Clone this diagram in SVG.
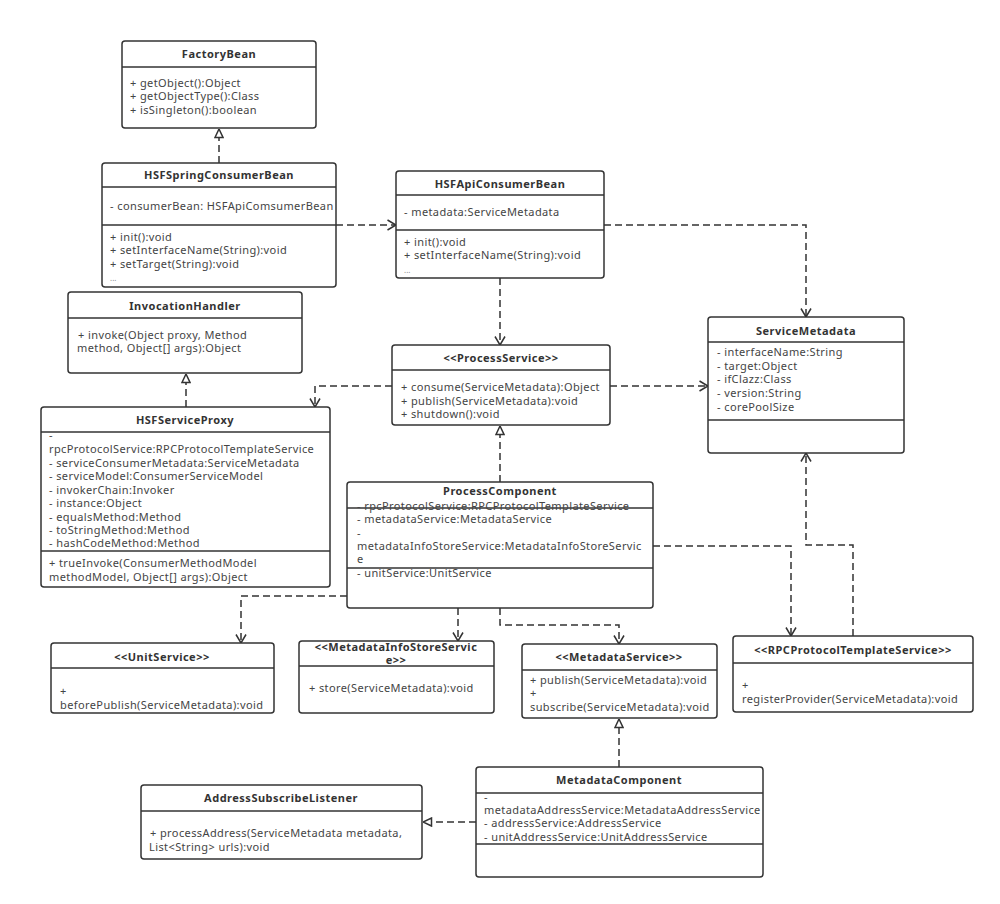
<svg xmlns="http://www.w3.org/2000/svg" width="1000" height="904" viewBox="0 0 1000 904">
<defs>
<style>
.box{fill:#fff;stroke:#333;stroke-width:1.5}
.div{stroke:#333;stroke-width:1.5}
.t{font-family:"Noto Sans","Liberation Sans",sans-serif;font-size:11px;letter-spacing:0.4px;fill:#444}
.h{font-family:"Noto Sans","Liberation Sans",sans-serif;font-size:11px;font-weight:bold;fill:#333;text-anchor:middle;letter-spacing:0.5px}
.e{font-family:"Noto Sans","Liberation Sans",sans-serif;font-size:8px;fill:#888}
.c{fill:none;stroke:#333;stroke-width:1.5;stroke-dasharray:7 4}
</style>
<marker id="arr" markerUnits="userSpaceOnUse" viewBox="0 0 10 12" refX="9.5" refY="6" markerWidth="10" markerHeight="12" orient="auto">
<path d="M1,1 L9.5,6 L1,11" fill="none" stroke="#333" stroke-width="1.5"/>
</marker>
<marker id="tri" markerUnits="userSpaceOnUse" viewBox="0 0 10 10" refX="9.5" refY="5" markerWidth="10" markerHeight="10" orient="auto">
<path d="M1,1 L9.5,5 L1,9 Z" fill="#fff" stroke="#333" stroke-width="1.5"/>
</marker>
</defs>
<rect width="1000" height="904" fill="#fff"/>

<g id="connectors">
<path class="c" d="M219,163 L219,129" marker-end="url(#tri)"/>
<path class="c" d="M336,225 L396,225" marker-end="url(#arr)"/>
<path class="c" d="M604,225 L806,225 L806,317" marker-end="url(#arr)"/>
<path class="c" d="M500,278 L500,345" marker-end="url(#arr)"/>
<path class="c" d="M186,407 L186,374" marker-end="url(#tri)"/>
<path class="c" d="M392,386 L315,386 L315,407" marker-end="url(#arr)"/>
<path class="c" d="M610,386 L708,386" marker-end="url(#arr)"/>
<path class="c" d="M500,482 L500,426" marker-end="url(#tri)"/>
<path class="c" d="M347,596 L241,596 L241,643" marker-end="url(#arr)"/>
<path class="c" d="M458,608 L458,641" marker-end="url(#arr)"/>
<path class="c" d="M500,608 L500,625 L619,625 L619,644" marker-end="url(#arr)"/>
<path class="c" d="M653,546 L791,546 L791,636" marker-end="url(#arr)"/>
<path class="c" d="M853,636 L853,545 L806,545 L806,453" marker-end="url(#arr)"/>
<path class="c" d="M619,767 L619,719" marker-end="url(#tri)"/>
<path class="c" d="M476,822 L423,822" marker-end="url(#tri)"/>
</g>

<g id="FactoryBean">
<rect class="box" x="122" y="41" width="194" height="87" rx="3"/>
<line class="div" x1="122" y1="67" x2="316" y2="67"/>
<text class="h" x="219" y="58">FactoryBean</text>
<text class="t" x="130" y="87">+ getObject():Object</text>
<text class="t" x="130" y="100">+ getObjectType():Class</text>
<text class="t" x="130" y="114">+ isSingleton():boolean</text>
</g>

<g id="HSFSpringConsumerBean">
<rect class="box" x="102" y="163" width="234" height="124" rx="3"/>
<line class="div" x1="102" y1="187" x2="336" y2="187"/>
<line class="div" x1="102" y1="225" x2="336" y2="225"/>
<text class="h" x="219" y="179">HSFSpringConsumerBean</text>
<text class="t" x="110" y="210">- consumerBean: HSFApiComsumerBean</text>
<text class="t" x="110" y="241">+ init():void</text>
<text class="t" x="110" y="254">+ setInterfaceName(String):void</text>
<text class="t" x="110" y="268">+ setTarget(String):void</text>
<text class="e" x="110" y="281">...</text>
</g>

<g id="HSFApiConsumerBean">
<rect class="box" x="396" y="171" width="208" height="107" rx="3"/>
<line class="div" x1="396" y1="195" x2="604" y2="195"/>
<line class="div" x1="396" y1="230" x2="604" y2="230"/>
<text class="h" x="500" y="188">HSFApiConsumerBean</text>
<text class="t" x="404" y="216">- metadata:ServiceMetadata</text>
<text class="t" x="404" y="246">+ init():void</text>
<text class="t" x="404" y="259">+ setInterfaceName(String):void</text>
<text class="e" x="404" y="273">...</text>
</g>

<g id="InvocationHandler">
<rect class="box" x="68" y="292" width="234" height="81" rx="3"/>
<line class="div" x1="68" y1="318" x2="302" y2="318"/>
<text class="h" x="185" y="310">InvocationHandler</text>
<text class="t" x="78" y="339">+ invoke(Object proxy, Method</text>
<text class="t" x="77" y="352">method, Object[] args):Object</text>
</g>

<g id="HSFServiceProxy">
<rect class="box" x="41" y="407" width="289" height="180" rx="3"/>
<line class="div" x1="41" y1="432" x2="330" y2="432"/>
<line class="div" x1="41" y1="551" x2="330" y2="551"/>
<text class="h" x="185" y="424">HSFServiceProxy</text>
<text class="t" x="49" y="439">-</text>
<text class="t" x="49" y="453">rpcProtocolService:RPCProtocolTemplateService</text>
<text class="t" x="49" y="467">- serviceConsumerMetadata:ServiceMetadata</text>
<text class="t" x="49" y="480">- serviceModel:ConsumerServiceModel</text>
<text class="t" x="49" y="494">- invokerChain:Invoker</text>
<text class="t" x="49" y="507">- instance:Object</text>
<text class="t" x="49" y="521">- equalsMethod:Method</text>
<text class="t" x="49" y="534">- toStringMethod:Method</text>
<text class="t" x="49" y="547">- hashCodeMethod:Method</text>
<text class="t" x="49" y="567">+ trueInvoke(ConsumerMethodModel</text>
<text class="t" x="49" y="581">methodModel, Object[] args):Object</text>
</g>

<g id="ProcessService">
<rect class="box" x="392" y="345" width="218" height="80" rx="3"/>
<line class="div" x1="392" y1="370" x2="610" y2="370"/>
<text class="h" x="501" y="362">&lt;&lt;ProcessService&gt;&gt;</text>
<text class="t" x="401" y="391">+ consume(ServiceMetadata):Object</text>
<text class="t" x="401" y="405">+ publish(ServiceMetadata):void</text>
<text class="t" x="401" y="418">+ shutdown():void</text>
</g>

<g id="ProcessComponent">
<rect class="box" x="347" y="482" width="306" height="126" rx="3"/>
<line class="div" x1="347" y1="508" x2="653" y2="508"/>
<line class="div" x1="347" y1="568" x2="653" y2="568"/>
<text class="h" x="500" y="495">ProcessComponent</text>
<text class="t" x="357" y="510">- rpcProtocolService:RPCProtocolTemplateService</text>
<text class="t" x="357" y="523">- metadataService:MetadataService</text>
<text class="t" x="357" y="537">-</text>
<text class="t" x="357" y="550">metadataInfoStoreService:MetadataInfoStoreServic</text>
<text class="t" x="357" y="563">e</text>
<text class="t" x="357" y="577">- unitService:UnitService</text>
</g>

<g id="ServiceMetadata">
<rect class="box" x="708" y="317" width="196" height="136" rx="3"/>
<line class="div" x1="708" y1="342" x2="904" y2="342"/>
<line class="div" x1="708" y1="420" x2="904" y2="420"/>
<text class="h" x="806" y="335">ServiceMetadata</text>
<text class="t" x="717" y="356">- interfaceName:String</text>
<text class="t" x="717" y="370">- target:Object</text>
<text class="t" x="717" y="383">- ifClazz:Class</text>
<text class="t" x="717" y="397">- version:String</text>
<text class="t" x="717" y="411">- corePoolSize</text>
</g>

<g id="UnitService">
<rect class="box" x="51" y="643" width="223" height="70" rx="3"/>
<line class="div" x1="51" y1="668" x2="274" y2="668"/>
<text class="h" x="162" y="661">&lt;&lt;UnitService&gt;&gt;</text>
<text class="t" x="60" y="695">+</text>
<text class="t" x="60" y="709">beforePublish(ServiceMetadata):void</text>
</g>

<g id="MetadataInfoStoreService">
<rect class="box" x="299" y="641" width="195" height="72" rx="3"/>
<line class="div" x1="299" y1="666" x2="494" y2="666"/>
<text class="h" x="396" y="651">&lt;&lt;MetadataInfoStoreServic</text>
<text class="h" x="396" y="664">e&gt;&gt;</text>
<text class="t" x="309" y="692">+ store(ServiceMetadata):void</text>
</g>

<g id="MetadataService">
<rect class="box" x="522" y="644" width="195" height="74" rx="3"/>
<line class="div" x1="522" y1="670" x2="717" y2="670"/>
<text class="h" x="619" y="661">&lt;&lt;MetadataService&gt;&gt;</text>
<text class="t" x="530" y="684">+ publish(ServiceMetadata):void</text>
<text class="t" x="530" y="697">+</text>
<text class="t" x="530" y="711">subscribe(ServiceMetadata):void</text>
</g>

<g id="RPCProtocolTemplateService">
<rect class="box" x="733" y="636" width="240" height="76" rx="3"/>
<line class="div" x1="733" y1="663" x2="973" y2="663"/>
<text class="h" x="853" y="654">&lt;&lt;RPCProtocolTemplateService&gt;&gt;</text>
<text class="t" x="742" y="689">+</text>
<text class="t" x="742" y="703">registerProvider(ServiceMetadata):void</text>
</g>

<g id="AddressSubscribeListener">
<rect class="box" x="141" y="785" width="281" height="74" rx="3"/>
<line class="div" x1="141" y1="811" x2="422" y2="811"/>
<text class="h" x="281" y="802">AddressSubscribeListener</text>
<text class="t" x="150" y="837">+ processAddress(ServiceMetadata metadata,</text>
<text class="t" x="149" y="851">List&lt;String&gt; urls):void</text>
</g>

<g id="MetadataComponent">
<rect class="box" x="476" y="767" width="287" height="110" rx="3"/>
<line class="div" x1="476" y1="793" x2="763" y2="793"/>
<line class="div" x1="476" y1="844" x2="763" y2="844"/>
<text class="h" x="619" y="784">MetadataComponent</text>
<text class="t" x="484" y="801">-</text>
<text class="t" x="484" y="814">metadataAddressService:MetadataAddressService</text>
<text class="t" x="484" y="827">- addressService:AddressService</text>
<text class="t" x="484" y="841">- unitAddressService:UnitAddressService</text>
</g>
</svg>
